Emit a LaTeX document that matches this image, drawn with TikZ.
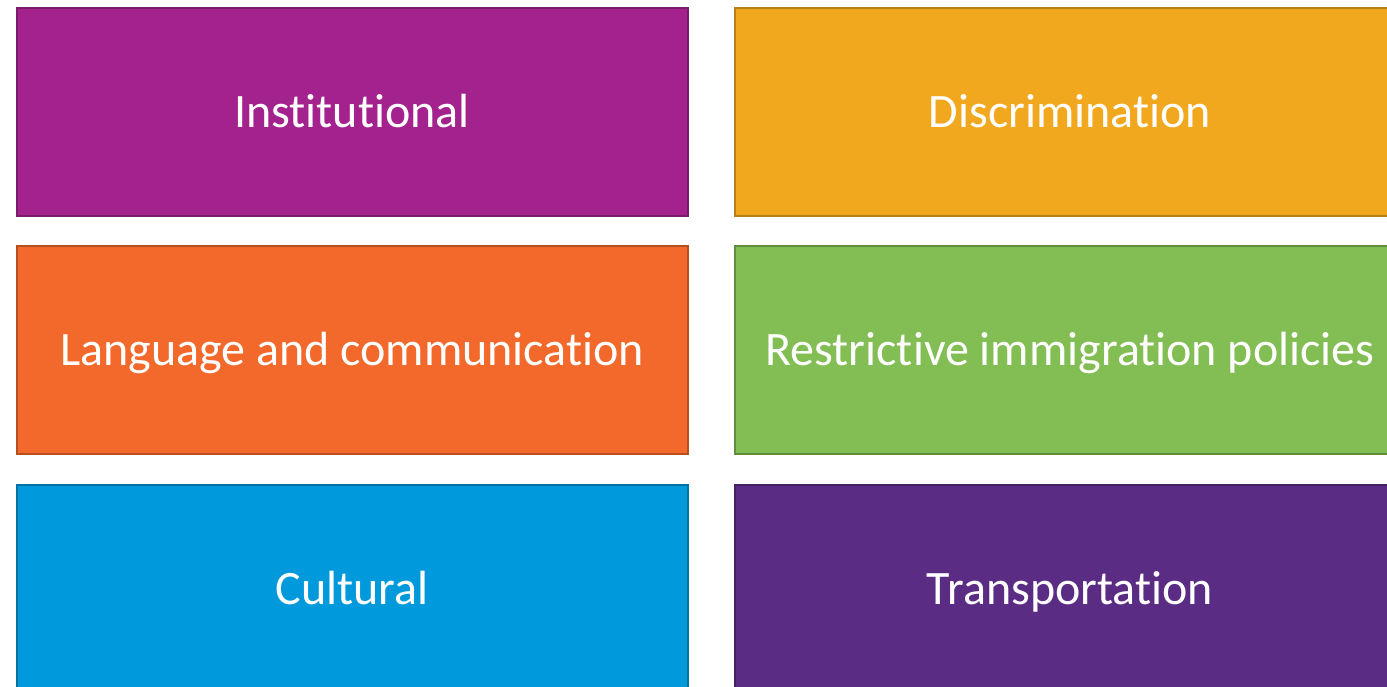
\documentclass[tikz,border=0pt]{standalone}
\usepackage{fontspec}
\setmainfont[Ligatures=NoCommon]{Carlito}
\definecolor{instcol}{HTML}{A4228D}
\definecolor{disccol}{HTML}{F2A81E}
\definecolor{langcol}{HTML}{F2692B}
\definecolor{restcol}{HTML}{82BE53}
\definecolor{cultcol}{HTML}{0099DB}
\definecolor{trancol}{HTML}{5A2C84}
\begin{document}
\begin{tikzpicture}[x=1pt,y=-1pt,
    barrier/.style={draw=#1!75!black, fill=#1, line width=2pt, text=white,
      minimum width=671pt, minimum height=208pt, inner sep=0pt,
      text height=31pt, text depth=0pt,
      font=\fontsize{48}{56}\selectfont}]
   \path[use as bounding box, clip] (0,0) rectangle (1387,686);
    \node[barrier=instcol] (inst) at (352,111.5) {Institutional};
    \node[barrier=disccol] (disc) at (1070,111.5) {Discrimination};
    \node[barrier=langcol] (lang) at (352,349.5) {Language and communication};
    \node[barrier=restcol] (rest) at (1070,349.5) {Restrictive immigration policies};
    \node[barrier=cultcol] (cult) at (352,588.5) {Cultural};
    \node[barrier=trancol] (tran) at (1070,588.5) {Transportation};
		\end{tikzpicture}
\end{document}
